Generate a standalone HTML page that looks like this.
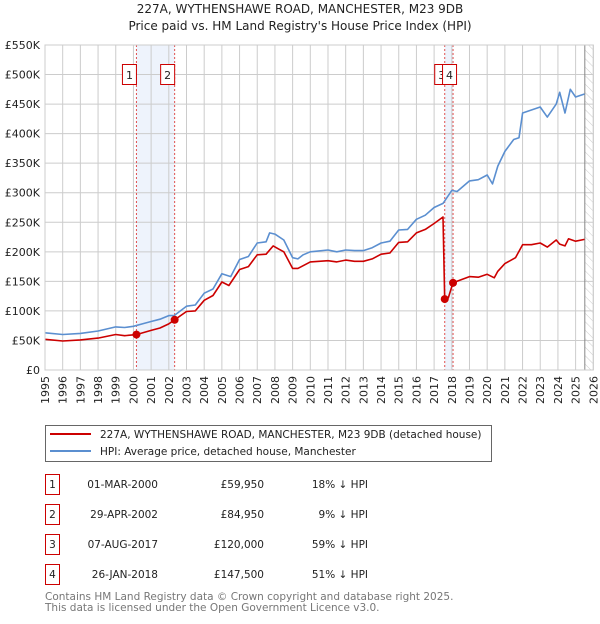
<!DOCTYPE html>
<html><head><meta charset="utf-8"><style>
body{margin:0;background:#fff;width:600px;height:620px;overflow:hidden;font-family:"DejaVu Sans","Liberation Sans",sans-serif}
text{font-family:"DejaVu Sans","Liberation Sans",sans-serif}
</style></head><body>
<svg id="chart" width="600" height="620" viewBox="0 0 600 620" xmlns="http://www.w3.org/2000/svg">
<defs><pattern id="hatch" width="6" height="6" patternUnits="userSpaceOnUse" patternTransform="rotate(-45)"><line x1="0" y1="0" x2="0" y2="6" stroke="#ccc" stroke-width="1"/></pattern></defs>
<text x="300" y="13" text-anchor="middle" font-size="12" fill="#222">227A, WYTHENSHAWE ROAD, MANCHESTER, M23 9DB</text>
<text x="300" y="30" text-anchor="middle" font-size="12" fill="#222">Price paid vs. HM Land Registry's House Price Index (HPI)</text>
<g id="plot"></g>
<g>
<rect x="45.5" y="425.5" width="446" height="36" fill="#fff" stroke="#666"/>
<line x1="50" y1="434" x2="91" y2="434" stroke="#cc0000" stroke-width="2"/>
<text x="100" y="438" font-size="10.5" fill="#222">227A, WYTHENSHAWE ROAD, MANCHESTER, M23 9DB (detached house)</text>
<line x1="50" y1="451" x2="91" y2="451" stroke="#5b8fd0" stroke-width="2"/>
<text x="100" y="455" font-size="10.5" fill="#222">HPI: Average price, detached house, Manchester</text>
</g>
<g id="table"></g>
<text x="45" y="600" font-size="10.5" fill="#777">Contains HM Land Registry data © Crown copyright and database right 2025.</text>
<text x="45" y="611" font-size="10.5" fill="#777">This data is licensed under the Open Government Licence v3.0.</text>
</svg>
<script>
const yearTicks=[1995,1996,1997,1998,1999,2000,2001,2002,2003,2004,2005,2006,2007,2008,2009,2010,2011,2012,2013,2014,2015,2016,2017,2018,2019,2020,2021,2022,2023,2024,2025,2026];
const priceTicks=[0,50,100,150,200,250,300,350,400,450,500,550];
const priceLabels=["£0","£50K","£100K","£150K","£200K","£250K","£300K","£350K","£400K","£450K","£500K","£550K"];
const hpiYears=[1995,1996,1997,1998,1999,1999.5,2000,2000.5,2001,2001.5,2002,2002.3,2003,2003.5,2004,2004.5,2005,2005.5,2006,2006.5,2007,2007.5,2007.7,2008,2008.5,2009,2009.3,2009.6,2010,2011,2011.5,2012,2012.5,2013,2013.5,2014,2014.5,2015,2015.5,2016,2016.5,2017,2017.5,2018,2018.3,2019,2019.5,2020,2020.3,2020.6,2021,2021.5,2021.8,2022,2022.5,2023,2023.4,2023.9,2024.1,2024.4,2024.7,2025,2025.5];
const hpiValues=[63,60,62,66,73,72,74,78,82,86,92,92,108,110,130,137,163,158,187,192,215,217,232,230,220,190,188,195,200,203,200,203,202,202,207,215,218,237,238,255,262,275,282,304,302,320,322,330,315,345,370,390,393,435,440,445,428,450,470,435,475,462,467];
const paidYears=[1995,1996,1997,1998,1999,1999.5,2000.17,2001,2001.5,2002,2002.33,2003,2003.5,2004,2004.5,2005,2005.4,2006,2006.5,2007,2007.5,2007.9,2008.2,2008.5,2009,2009.3,2010,2011,2011.5,2012,2012.5,2013,2013.5,2014,2014.5,2015,2015.5,2016,2016.5,2017,2017.5,2017.6,2017.8,2018.07,2019,2019.5,2020,2020.4,2020.6,2021,2021.6,2022,2022.5,2023,2023.4,2023.9,2024.1,2024.4,2024.6,2025,2025.5];
const paidValues=[52,49,51,54,60,58,59.95,67,71,78,84.95,99,100,118,126,149,143,170,175,195,196,210,205,200,172,172,183,185,183,186,184,184,188,196,198,216,217,232,238,248,259,120,122,147.5,158,157,162,156,167,180,190,212,212,215,208,220,213,210,222,218,221];
const saleLabels=["1","2","3","4"];
const saleYears=[2000.17,2002.33,2017.6,2018.07];
const salePrices=[59.95,84.95,120,147.5];
const saleDates=["01-MAR-2000","29-APR-2002","07-AUG-2017","26-JAN-2018"];
const salePriceText=["£59,950","£84,950","£120,000","£147,500"];
const salePct=["18% ↓ HPI","9% ↓ HPI","59% ↓ HPI","51% ↓ HPI"];

const NS="http://www.w3.org/2000/svg";
const X0=45,X1=593.3,Y0=370,Y1=45;
const xs=y=>X0+(y-1995)/(2026-1995)*(X1-X0);
const ys=v=>Y0-v/550*(Y0-Y1);
function mk(tag,attrs,parent){const e=document.createElementNS(NS,tag);for(const k in attrs)e.setAttribute(k,attrs[k]);parent.appendChild(e);return e;}
const plot=document.getElementById('plot');
const bg=mk('rect',{x:X0,y:Y1,width:X1-X0,height:Y0-Y1,fill:'#fff'},plot);


const sh=mk('rect',{x:xs(saleYears[0]),y:Y1,width:xs(saleYears[1])-xs(saleYears[0]),height:Y0-Y1,fill:'#eef3fc'},plot);


const sh2=mk('rect',{x:xs(saleYears[2]),y:Y1,width:xs(saleYears[3])-xs(saleYears[2]),height:Y0-Y1,fill:'#eef3fc'},plot);


const ht=mk('rect',{x:xs(2025.52),y:Y1,width:X1-xs(2025.52),height:Y0-Y1,fill:'url(#hatch)'},plot);


yearTicks.forEach(y=>{
 const l=mk('line',{x1:xs(y),x2:xs(y),y1:Y1,y2:Y0,stroke:'#ccc','stroke-width':1},plot);
 
 
 const t=mk('text',{x:0,y:0,'font-size':11,fill:'#222','text-anchor':'end',transform:`translate(${xs(y)+4},${Y0+6}) rotate(-90)`},plot);
 t.textContent=y;
 
 
});
priceTicks.forEach((v,i)=>{
 const l=mk('line',{x1:X0,x2:X1,y1:ys(v),y2:ys(v),stroke:'#ccc','stroke-width':1},plot);
 
 
 const t=mk('text',{x:X0-5,y:ys(v)+4,'font-size':11,fill:'#222','text-anchor':'end'},plot);
 t.textContent=priceLabels[i];
 
 
});
const vl=mk('line',{x1:xs(2025.52),x2:xs(2025.52),y1:Y1,y2:Y0,stroke:'#888','stroke-width':1},plot);


saleYears.forEach((y,i)=>{
 const l=mk('line',{x1:xs(y),x2:xs(y),y1:Y1,y2:Y0,stroke:'#e05050','stroke-width':1,'stroke-dasharray':'2,2'},plot);
 
 
});
function line(xa,va,col,name){
 const p=mk('polyline',{points:xa.map((x,i)=>xs(x).toFixed(1)+','+ys(va[i]).toFixed(1)).join(' '),fill:'none',stroke:col,'stroke-width':1.6,'stroke-linejoin':'round'},plot);
 
 
}
line(hpiYears,hpiValues,'#5b8fd0','hpi-line');
line(paidYears,paidValues,'#cc0000','price-paid-line');
saleYears.forEach((y,i)=>{
 const c=mk('circle',{cx:xs(y),cy:ys(salePrices[i]),r:4,fill:'#cc0000'},plot);
 
 
 const g=mk('g',{},plot);
 
 
 const cx=i<2?xs(y)-7:(i==2?xs(y)-3:xs(y)-3.5);
 mk('rect',{x:cx-7,y:64.5,width:14,height:20,fill:'#fff',stroke:'#cc0000'},g);
 const t=mk('text',{x:cx,y:79,'font-size':11,'text-anchor':'middle',fill:'#222'},g);
 t.textContent=saleLabels[i];
});
const bo=mk('rect',{x:X0,y:Y1,width:X1-X0,height:Y0-Y1,fill:'none',stroke:'#ccc'},plot);


const tb=document.getElementById('table');
saleLabels.forEach((s,i)=>{
 const cy=483+i*30;
 const r=mk('g',{},tb);
 
 
 mk('rect',{x:45.5,y:cy-8.5,width:14,height:20,fill:'#fff',stroke:'#cc0000'},r);
 let t=mk('text',{x:52.5,y:cy+5,'font-size':10.5,'text-anchor':'middle',fill:'#222'},r);t.textContent=s;
 t=mk('text',{x:158,y:cy+5,'font-size':10.5,'text-anchor':'end',fill:'#222'},r);t.textContent=saleDates[i];
 t=mk('text',{x:264,y:cy+5,'font-size':10.5,'text-anchor':'end',fill:'#222'},r);t.textContent=salePriceText[i];
 t=mk('text',{x:368,y:cy+5,'font-size':10.5,'text-anchor':'end',fill:'#222'},r);t.textContent=salePct[i];
});
</script>
</body></html>
